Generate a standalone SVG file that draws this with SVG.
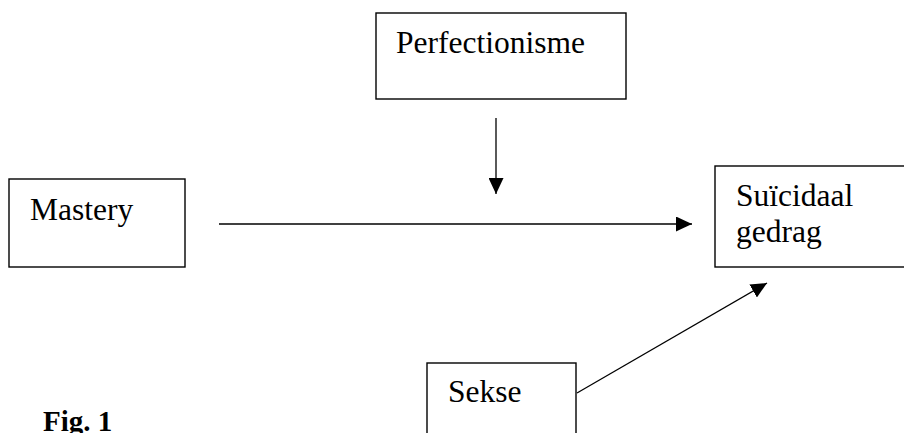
<svg xmlns="http://www.w3.org/2000/svg" width="904" height="433" viewBox="0 0 904 433">
<style>
.box{fill:#fff;stroke:#000;stroke-width:1.4}
.lbl{font-family:"Liberation Serif","Times New Roman",serif;font-size:31.5px;fill:#000}
.conn{stroke:#000;stroke-width:1.3;fill:none}
.cap{font-family:"Liberation Serif","Times New Roman",serif;font-size:29px;font-weight:bold;fill:#000}
</style>
<defs>
<marker id="ah" markerUnits="userSpaceOnUse" markerWidth="16" markerHeight="15" refX="16" refY="7.5" orient="auto">
<path d="M0,0 L16,7.5 L0,15 z" fill="#000"/>
</marker>
</defs>
<rect width="904" height="433" fill="#fff"/>
<g id="perfectionisme">
<rect class="box" x="376" y="13" width="250" height="86"/>
<text class="lbl" x="396" y="53">Perfectionisme</text>
</g>
<g id="mastery">
<rect class="box" x="9" y="179" width="176" height="88"/>
<text class="lbl" x="30" y="220">Mastery</text>
</g>
<g id="suicidaal">
<rect class="box" x="715" y="166" width="200" height="101"/>
<text class="lbl" x="736" y="206">Suïcidaal</text>
<text class="lbl" x="736" y="242">gedrag</text>
</g>
<g id="sekse">
<rect class="box" x="427" y="363" width="149" height="90"/>
<text class="lbl" x="448" y="402">Sekse</text>
</g>
<g id="connectors">
<line class="conn" x1="496" y1="118" x2="496" y2="194" marker-end="url(#ah)"/>
<line class="conn" x1="219" y1="224" x2="692" y2="224" marker-end="url(#ah)"/>
<line class="conn" x1="577" y1="393" x2="767" y2="283" marker-end="url(#ah)"/>
</g>
<text class="cap" x="43" y="431">Fig. 1</text>
</svg>
